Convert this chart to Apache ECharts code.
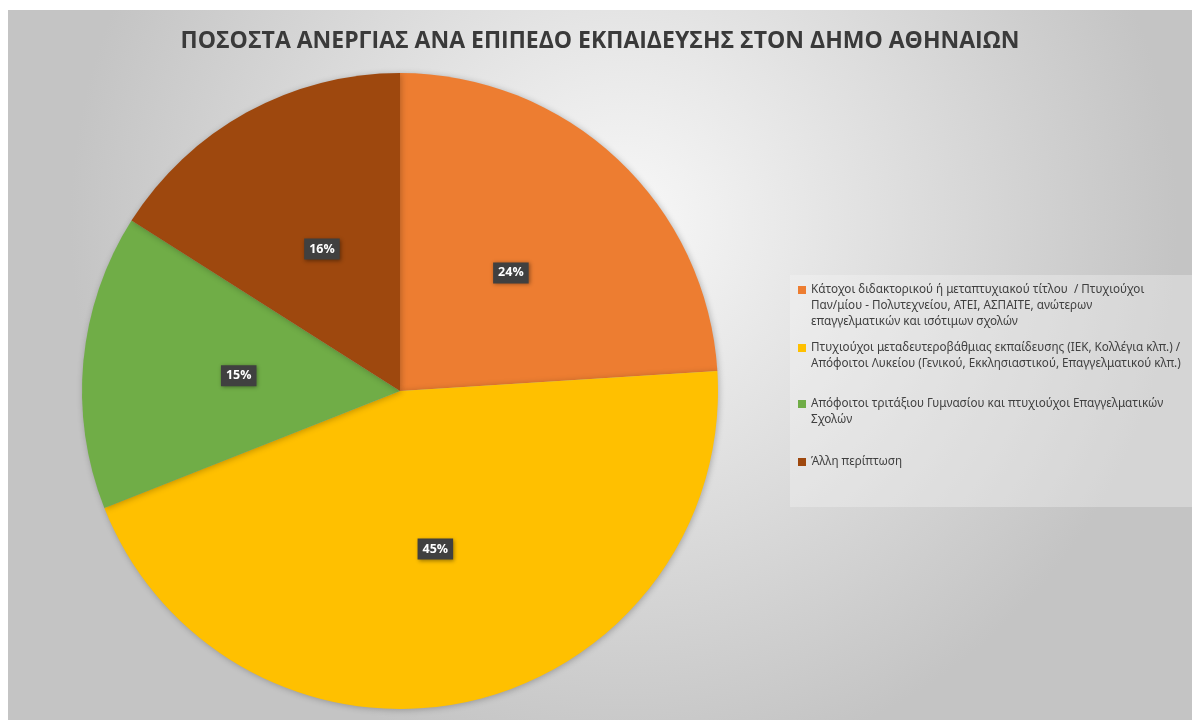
<!DOCTYPE html>
<html>
<head>
<meta charset="utf-8">
<script src="https://cdn.jsdelivr.net/npm/echarts@6/dist/echarts.min.js"></script>
<style>
  html, body { margin: 0; padding: 0; background: #fff; }
  #chart { position: absolute; left: 8px; top: 10px; width: 1184px; height: 710px; }
</style>
</head>
<body>
<div id="chart"></div>
<script>
// κατηγορίες (με αλλαγές γραμμής όπως στο υπόμνημα)
const categories = [
  'Κάτοχοι διδακτορικού ή μεταπτυχιακού τίτλου  / Πτυχιούχοι\nΠαν/μίου - Πολυτεχνείου, ΑΤΕΙ, ΑΣΠΑΙΤΕ, ανώτερων\nεπαγγελματικών και ισότιμων σχολών',
  'Πτυχιούχοι μεταδευτεροβάθμιας εκπαίδευσης (ΙΕΚ, Κολλέγια κλπ.) /\nΑπόφοιτοι Λυκείου (Γενικού, Εκκλησιαστικού, Επαγγελματικού κλπ.)',
  'Απόφοιτοι τριτάξιου Γυμνασίου και πτυχιούχοι Επαγγελματικών\nΣχολών',
  'Άλλη περίπτωση'
];
const values = [24, 45, 15, 16];
const colors = ['#ED7D31', '#FFC000', '#70AD47', '#9E480E'];
const legendTops = [235, 309, 365, 439];
const lineH = 16;

var myChart = echarts.init(document.getElementById('chart'));

myChart.setOption({
    backgroundColor: {
        type: 'radial', x: 0.52, y: 0.3, r: 0.78,
        colorStops: [
            { offset: 0, color: '#f8f8f8' },
            { offset: 1, color: '#c4c4c4' }
        ]
    },
    title: {
        text: 'ΠΟΣΟΣΤΑ ΑΝΕΡΓΙΑΣ ΑΝΑ ΕΠΙΠΕΔΟ ΕΚΠΑΙΔΕΥΣΗΣ ΣΤΟΝ ΔΗΜΟ ΑΘΗΝΑΙΩΝ',
        left: 'center',
        top: 15,
        padding: [5, 5, 5, 15],
        textStyle: {
            color: '#3a3a3a',
            fontFamily: 'Open Sans',
            fontWeight: 'bold',
            fontSize: 23
        }
    },
    // φόντο υπομνήματος
    graphic: [{
        type: 'rect',
        left: 782, top: 265,
        shape: { width: 410, height: 232 },
        style: { fill: 'rgba(246,246,246,0.35)' },
        silent: true
    }],
    // ένα υπόμνημα ανά κατηγορία για να κρατηθούν οι αποστάσεις
    legend: categories.map((name, i) => {
        const lines = name.split('\n').length;
        return {
            data: [name],
            left: 785,
            top: legendTops[i],
            orient: 'vertical',
            icon: 'rect',
            itemWidth: 8,
            itemHeight: 8,
            selectedMode: false,
            // κενές γραμμές πάνω ώστε το τετράγωνο να ευθυγραμμίζεται με την 1η γραμμή
            formatter: n => ' \n'.repeat(lines - 1) + n,
            textStyle: {
                color: '#404040',
                fontFamily: 'Noto Sans',
                fontSize: 11.7,
                lineHeight: lineH
            }
        };
    }),
    series: [
        {
            type: 'pie',
            center: [392, 381],
            radius: [0, 318],
            startAngle: 90,
            clockwise: true,
            silent: true,
            data: categories.map((name, i) => ({
                name: name,
                value: values[i],
                itemStyle: { color: colors[i] }
            })),
            itemStyle: {
                shadowBlur: 6,
                shadowOffsetX: 1,
                shadowOffsetY: 1,
                shadowColor: 'rgba(0,0,0,0.25)'
            },
            label: {
                show: true,
                position: 'inside',
                formatter: '{d}%',
                color: '#fff',
                fontFamily: 'Open Sans',
                fontWeight: 'bold',
                fontSize: 12.5,
                backgroundColor: '#404040',
                padding: [4, 5],
                shadowBlur: 4,
                shadowOffsetX: 1,
                shadowOffsetY: 1,
                shadowColor: 'rgba(0,0,0,0.4)'
            },
            labelLine: { show: false }
        }
    ]
});
</script>
</body>
</html>
